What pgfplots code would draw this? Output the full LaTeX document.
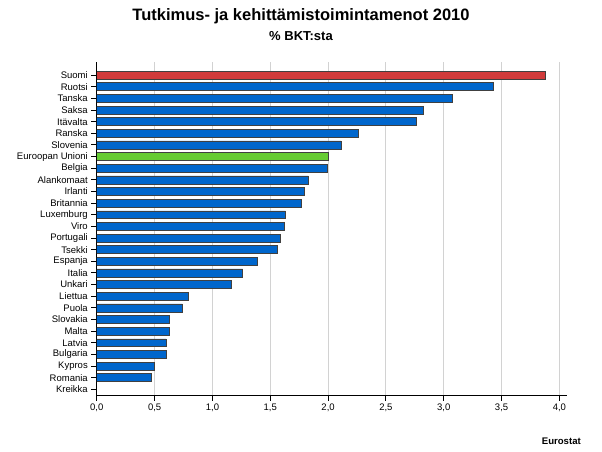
\documentclass[border=0pt]{standalone}
\usepackage{pgfplots}
\pgfplotsset{compat=1.18}
\usepackage{fontspec}
\setmainfont{Liberation Sans}
\definecolor{barblue}{HTML}{0066CC}
\definecolor{barred}{HTML}{D13B3B}
\definecolor{bargreen}{HTML}{66CC33}
\begin{document}
\begin{tikzpicture}[x=1pt,y=1pt]
\path[use as bounding box] (0,0) rectangle (602,451);
\node[font=\bfseries\fontsize{16.5}{19}\selectfont, anchor=base] at (301,430) {Tutkimus- ja kehittämistoimintamenot 2010};
\node[font=\bfseries\fontsize{13}{15}\selectfont, anchor=base] at (301,410) {\% BKT:sta};
\node[font=\bfseries\fontsize{9.6}{11}\selectfont, anchor=base east, inner sep=0pt] at (581,7) {Eurostat};
\begin{axis}[
  at={(83.7,48)}, anchor=south west,
  scale only axis, width=470pt, height=333.3pt,
  xmin=0, xmax=4.064, ymin=-0.5, ymax=28.14,
  xbar, bar width=0.68, bar shift=0pt,
  axis x line=bottom, axis y line=left,
  axis line style={-, line width=1.1pt},
  xtick={0,0.5,...,4.0},
  ytick={0,...,27},
  yticklabels={Kreikka,Romania,Kypros,Bulgaria,Latvia,Malta,Slovakia,Puola,Liettua,Unkari,Italia,Espanja,Tsekki,Portugali,Viro,Luxemburg,Britannia,Irlanti,Alankomaat,Belgia,Euroopan Unioni,Slovenia,Ranska,Itävalta,Saksa,Tanska,Ruotsi,Suomi},
  xmajorgrids, major grid style={gray!35, line width=0.9pt},
  tick style={black, line width=0.9pt},
  major tick length=5.5pt,
  tick align=outside,
  ticklabel style={font=\fontsize{9.5}{11}\selectfont},
  /pgf/number format/.cd, fixed, fixed zerofill, precision=1, use comma, assume math mode=true,
]
\addplot[fill=barblue, draw=black!75, line width=0.6pt] coordinates {
(0.47,1) (0.50,2) (0.60,3) (0.60,4) (0.63,5) (0.63,6) (0.74,7) (0.79,8)
(1.16,9) (1.26,10) (1.39,11) (1.56,12) (1.59,13) (1.62,14) (1.63,15)
(1.77,16) (1.79,17) (1.83,18) (1.99,19) (2.11,21) (2.26,22) (2.76,23)
(2.82,24) (3.07,25) (3.43,26)};
\addplot[fill=bargreen, draw=black!75, line width=0.6pt] coordinates {(2.00,20)};
\addplot[fill=barred, draw=black!75, line width=0.6pt] coordinates {(3.88,27)};
\end{axis}
\end{tikzpicture}
\end{document}
